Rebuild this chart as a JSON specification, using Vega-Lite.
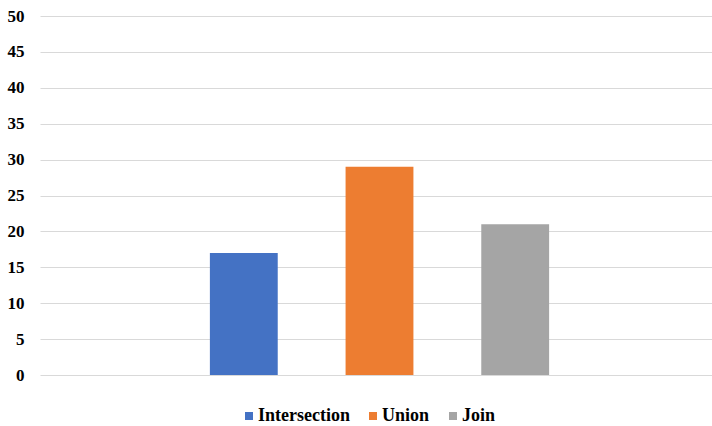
{
  "$schema": "https://vega.github.io/schema/vega-lite/v6.json",
  "autosize": "none",
  "width": 679,
  "height": 359,
  "padding": {"left": 40, "top": 16, "right": -7, "bottom": 51},
  "background": "white",
  "data": {
    "values": [
      {"series": "Intersection", "value": 17},
      {"series": "Union", "value": 29},
      {"series": "Join", "value": 21}
    ]
  },
  "mark": {"type": "bar"},
  "encoding": {
    "x": {
      "field": "series",
      "type": "nominal",
      "scale": {"domain": ["_left", "Intersection", "Union", "Join", "_right"], "paddingInner": 0.5, "paddingOuter": 0.252, "align": 0.5},
      "axis": null
    },
    "y": {
      "field": "value",
      "type": "quantitative",
      "scale": {"domain": [0, 50]},
      "axis": {
        "title": null,
        "values": [0, 5, 10, 15, 20, 25, 30, 35, 40, 45, 50],
        "domain": false,
        "ticks": false,
        "labelPadding": 16,
        "labelFont": "Liberation Serif",
        "labelFontWeight": "bold",
        "labelFontSize": 17,
        "labelColor": "#000000",
        "gridColor": "#d9d9d9",
        "gridWidth": 1
      }
    },
    "color": {
      "field": "series",
      "type": "nominal",
      "scale": {"domain": ["Intersection", "Union", "Join"], "range": ["#4472c4", "#ed7d31", "#a5a5a5"]},
      "legend": {
        "title": null,
        "orient": "none",
        "legendX": 200,
        "legendY": 391,
        "direction": "horizontal",
        "symbolType": "square",
        "symbolSize": 64,
        "symbolStrokeWidth": 0,
        "labelFont": "Liberation Serif",
        "labelFontWeight": "bold",
        "labelFontSize": 18,
        "labelColor": "#000000",
        "columnPadding": 14,
        "labelOffset": 0
      }
    }
  },
  "config": {"view": {"stroke": null}}
}
